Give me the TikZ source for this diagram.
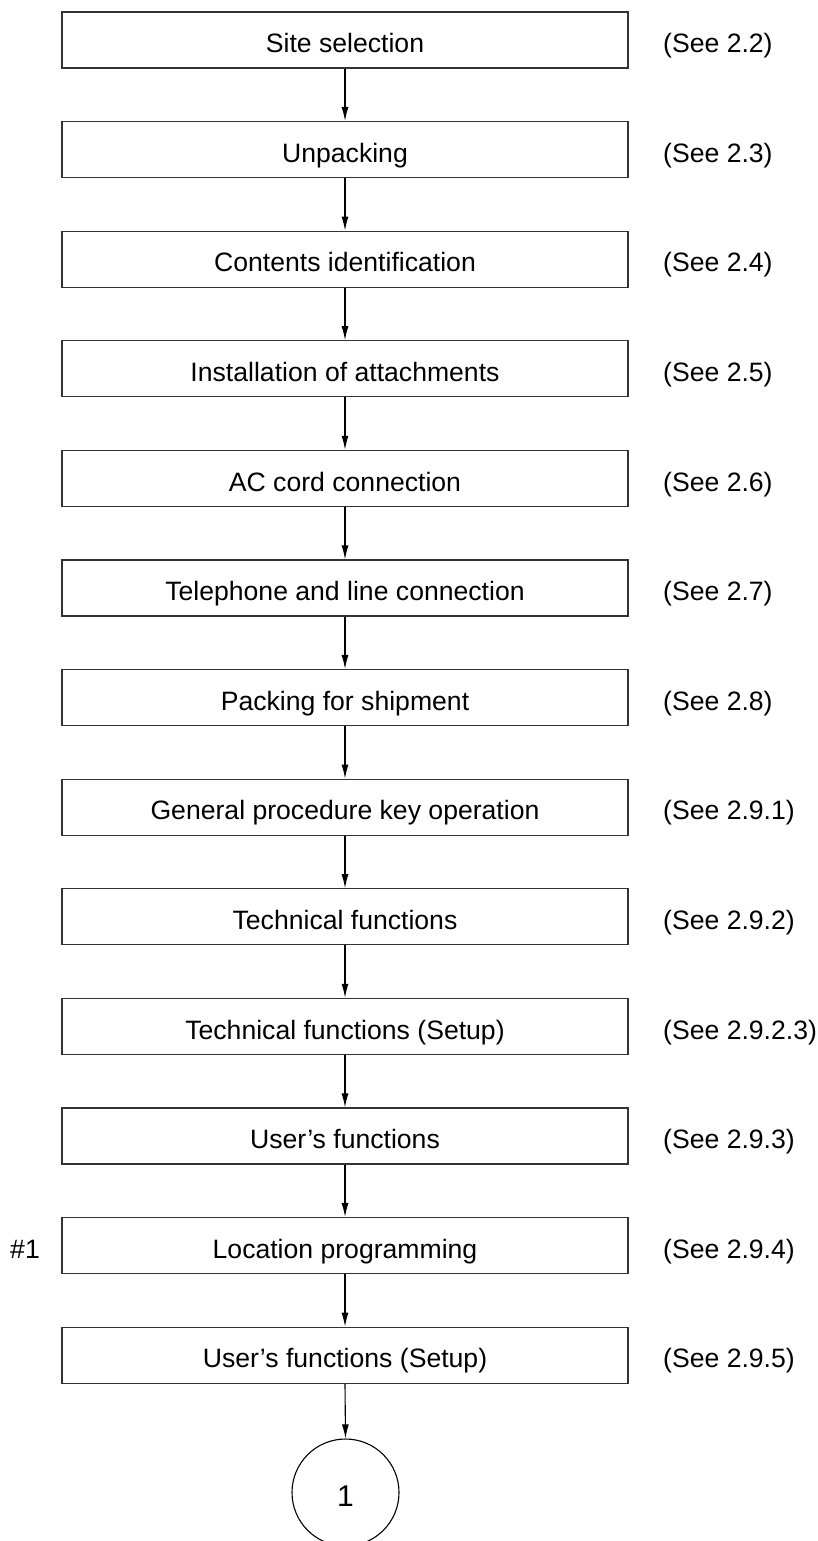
\documentclass[tikz,border=0pt]{standalone}
\usepackage{fontspec}
\setmainfont{Liberation Sans}
\usetikzlibrary{arrows.meta}
\begin{document}
\begin{tikzpicture}[x=1pt,y=1pt,
  every node/.style={font=\fontsize{26.6}{30}\selectfont},
  stepbox/.style={draw=black!80, line width=1.3pt, minimum width=566pt, minimum height=56pt, inner sep=0pt, text height=25.4pt, text depth=0pt, anchor=center},
  reflabel/.style={anchor=base west, inner sep=0pt},
  flow/.style={draw=black, line width=1.1pt, -{Latex[length=14pt,width=7pt]}},
  endcircle/.style={draw=black, line width=1.1pt, circle, minimum size=107pt, inner sep=0pt}]
\useasboundingbox (0,0) rectangle (817,-1541);
\clip (0,0) rectangle (817,-1541);
\def\sp{109.6}
\foreach \i/\t/\r in {
  0/Site selection/2.2,
  1/Unpacking/2.3,
  2/Contents identification/2.4,
  3/Installation of attachments/2.5,
  4/AC cord connection/2.6,
  5/Telephone and line connection/2.7,
  6/Packing for shipment/2.8,
  7/General procedure key operation/2.9.1,
  8/Technical functions/2.9.2,
  9/Technical functions (Setup)/2.9.2.3,
  10/User’s functions/2.9.3,
  11/Location programming/2.9.4,
  12/User’s functions (Setup)/2.9.5}{
  \node[stepbox] (b\i) at (345,{-40-\sp*\i}) {\t};
  \node[reflabel] (r\i) at (663,{-52.7-\sp*\i}) {(See \r)};
}
\node[anchor=base east, inner sep=0pt] (hash) at (40,{-52.7-\sp*11}) {\#1};
\node[endcircle] (c1) at (345.5,-1492.5) {};
\node[anchor=base, inner sep=0pt, font=\fontsize{30}{34}\selectfont] (one) at (c1.center) [yshift=-14pt] {1};
\foreach \i [evaluate=\i as \j using int(\i+1)] in {0,...,11}{
  \draw[flow] (b\i.south) -- (b\j.north);
}
\draw[flow] (b12.south) -- (c1.north);
\end{tikzpicture}
\end{document}
